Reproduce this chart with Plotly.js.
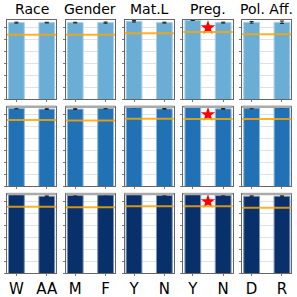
<!DOCTYPE html>
<html>
<head>
<meta charset="utf-8">
<script src="https://cdn.plot.ly/plotly-3.0.1.min.js"></script>
<style>html,body{margin:0;padding:0;background:#fff}#chart{width:297px;height:297px}</style>
</head>
<body>
<div id="chart"></div>
<script>
// Column titles and category labels
const groups = ["Race", "Gender", "Mat.L", "Preg.", "Pol. Aff."];
const categories = [["W", "AA"], ["M", "F"], ["Y", "N"], ["Y", "N"], ["D", "R"]];

// Bar values per row (rows top -> bottom), per column, two bars each
const valuesRow1 = [[0.943, 0.943], [0.943, 0.943], [0.954, 0.943], [0.963, 0.943], [0.946, 0.946]];
const valuesRow2 = [[0.952, 0.946], [0.946, 0.952], [0.960, 0.948], [0.963, 0.948], [0.954, 0.960]];
const valuesRow3 = [[0.960, 0.946], [0.952, 0.958], [0.960, 0.952], [0.963, 0.952], [0.946, 0.946]];

// Error bar half-lengths
const errorsRow1 = [[0.004, 0.003], [0.003, 0.005], [0.006, 0.004], [0.002, 0.004], [0.007, 0.010]];
const errorsRow2 = [[0.004, 0.003], [0.003, 0.004], [0.003, 0.003], [0.002, 0.003], [0.005, 0.003]];
const errorsRow3 = [[0.003, 0.004], [0.004, 0.003], [0.002, 0.003], [0.002, 0.003], [0.005, 0.005]];

// Orange reference line per panel
const refRow1 = [0.842, 0.842, 0.854, 0.865, 0.845];
const refRow2 = [0.854, 0.851, 0.865, 0.862, 0.862];
const refRow3 = [0.857, 0.854, 0.862, 0.862, 0.849];

// Red star marker (significance) per panel: null = none
const starRow1 = [null, null, null, 0.900, null];
const starRow2 = [null, null, null, 0.900, null];
const starRow3 = [null, null, null, 0.901, null];

const values = [valuesRow1, valuesRow2, valuesRow3];
const errors = [errorsRow1, errorsRow2, errorsRow3];
const refs = [refRow1, refRow2, refRow3];
const stars = [starRow1, starRow2, starRow3];
const rowColors = ["#6aaed6", "#2171b5", "#08306b"];
const edgeColors = ["#a9d0ea", "#8fb8dc", "#7b93b5"];

const W = 297, H = 297;
const colLeft = [7, 65.8, 124.6, 183.4, 242.2];
const colWidth = 49.2;
const rowTB = [[20, 99.3], [106.8, 186], [194, 273]];

const traces = [];
const layout = {
  width: W, height: H,
  margin: {l: 0, r: 0, t: 0, b: 0},
  paper_bgcolor: "#fff", plot_bgcolor: "#fff",
  showlegend: false,
  font: {family: "DejaVu Sans", size: 14, color: "#000"},
  shapes: [], annotations: [], bargap: 0
};

for (let r = 0; r < 3; r++) {
  for (let c = 0; c < 5; c++) {
    const i = r * 5 + c + 1;
    const xs = "x" + (i === 1 ? "" : i), ys = "y" + (i === 1 ? "" : i);
    const xk = "xaxis" + (i === 1 ? "" : i), yk = "yaxis" + (i === 1 ? "" : i);
    traces.push({
      type: "bar", x: [0, 1], y: values[r][c], xaxis: xs, yaxis: ys, width: 0.52,
      marker: {color: rowColors[r], line: {color: edgeColors[r], width: 1}},
      error_y: {type: "data", array: errors[r][c], visible: true, color: "#222", thickness: 1, width: 2},
      hoverinfo: "none"
    });
    if (stars[r][c] !== null) {
      traces.push({
        type: "scatter", mode: "markers", x: [0.5], y: [stars[r][c]], xaxis: xs, yaxis: ys,
        marker: {symbol: "star", size: 11, color: "#ff0000", line: {width: 0}}, hoverinfo: "none"
      });
    }
    layout[xk] = {
      domain: [colLeft[c] / W, (colLeft[c] + colWidth) / W],
      anchor: ys, range: [-0.31, 1.31], tickvals: [0, 1], ticktext: categories[c],
      showticklabels: r === 2, ticks: "outside", ticklen: 2, tickcolor: "#777",
      showgrid: false, zeroline: false, showline: true, linecolor: "#666", linewidth: 1, mirror: true,
      tickfont: {size: 15, family: "DejaVu Sans", color: "#000"}, fixedrange: true
    };
    layout[yk] = {
      domain: [1 - rowTB[r][1] / H, 1 - rowTB[r][0] / H],
      anchor: xs, range: [0.3, 0.965], dtick: 0.1, tick0: 0.3,
      showticklabels: false, ticks: "outside", ticklen: 2, tickcolor: "#777",
      showgrid: true, gridcolor: "rgba(200,200,200,0.55)", gridwidth: 1, layer: "above traces",
      zeroline: false, showline: true, linecolor: "#666", linewidth: 1, mirror: true, fixedrange: true
    };
    layout.shapes.push({
      type: "line", xref: xs + " domain", yref: ys, x0: 0, x1: 1, y0: refs[r][c], y1: refs[r][c],
      line: {color: "rgba(255,165,0,0.85)", width: 2}
    });
    if (r > 0) {
      layout.shapes.push({
        type: "line", xref: xs + " domain", yref: ys + " domain", x0: 0, x1: 1, y0: 1, y1: 1,
        line: {color: "#aaaaaa", width: 2.5}
      });
    }
    if (r === 0) {
      layout.annotations.push({
        text: groups[c], xref: "paper", yref: "paper",
        x: (colLeft[c] + colWidth / 2) / W, y: 1 - 19 / H, xanchor: "center", yanchor: "bottom",
        showarrow: false, font: {size: 14, family: "DejaVu Sans", color: "#000"}
      });
    }
  }
}

Plotly.newPlot("chart", traces, layout, {staticPlot: true, displayModeBar: false});
</script>
</body>
</html>
